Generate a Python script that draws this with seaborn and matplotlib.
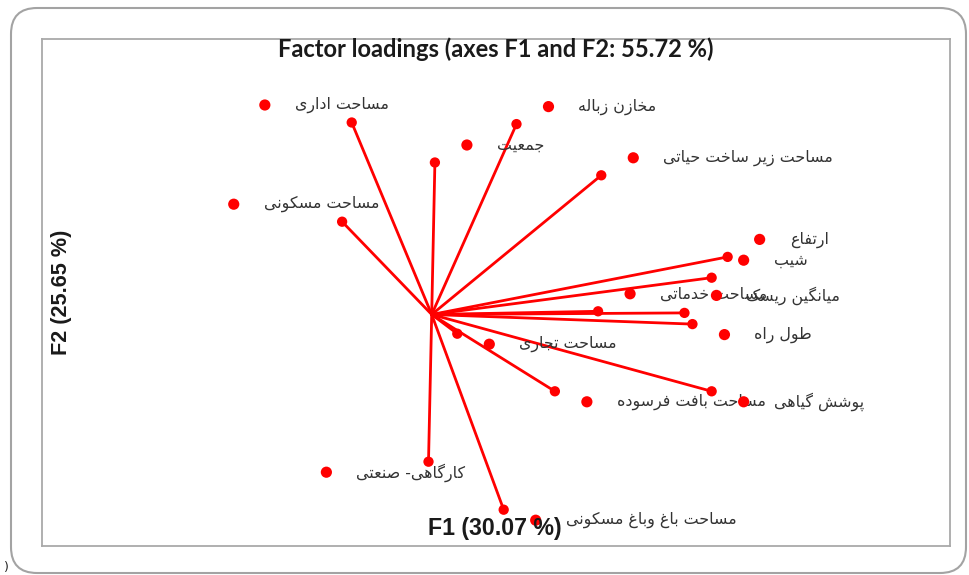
import numpy as np
import pandas as pd
import matplotlib
matplotlib.use("Agg")
import matplotlib.pyplot as plt
import seaborn as sns
from matplotlib.patches import FancyBboxPatch
from matplotlib.transforms import IdentityTransform

# ---------------- data ----------------
variables = ["مساحت اداری", "جمعیت", "مخازن زباله", "مساحت زیر ساخت حیاتی",
             "مساحت مسکونی", "ارتفاع", "شیب", "مساحت خدماتی", "میانگین ریسک",
             "طول راه", "مساحت تجاری", "مساحت بافت فرسوده", "پوشش گیاهی",
             "کارگاهی- صنعتی", "مساحت باغ وباغ مسکونی"]
f1 = [-0.25, 0.01, 0.265, 0.53, -0.28, 0.925, 0.875, 0.52, 0.79,
      0.815, 0.08, 0.385, 0.875, -0.01, 0.225]
f2 = [0.60, 0.475, 0.595, 0.435, 0.29, 0.18, 0.115, 0.01, 0.005,
      -0.03, -0.06, -0.24, -0.24, -0.46, -0.61]
title = "Factor loadings (axes F1 and F2: 55.72 %)"
xlabel = "F1 (30.07 %)"
ylabel = "F2 (25.65 %)"

# ---------------- Persian shaping (presentation forms, visual order) ----------------
FORMS = {
    'ا': ('\uFE8D', '\uFE8E', None, None),
    'ب': ('\uFE8F', '\uFE90', '\uFE91', '\uFE92'),
    'پ': ('\uFB56', '\uFB57', '\uFB58', '\uFB59'),
    'ت': ('\uFE95', '\uFE96', '\uFE97', '\uFE98'),
    'ج': ('\uFE9D', '\uFE9E', '\uFE9F', '\uFEA0'),
    'ح': ('\uFEA1', '\uFEA2', '\uFEA3', '\uFEA4'),
    'خ': ('\uFEA5', '\uFEA6', '\uFEA7', '\uFEA8'),
    'د': ('\uFEA9', '\uFEAA', None, None),
    'ر': ('\uFEAD', '\uFEAE', None, None),
    'ز': ('\uFEAF', '\uFEB0', None, None),
    'س': ('\uFEB1', '\uFEB2', '\uFEB3', '\uFEB4'),
    'ش': ('\uFEB5', '\uFEB6', '\uFEB7', '\uFEB8'),
    'ص': ('\uFEB9', '\uFEBA', '\uFEBB', '\uFEBC'),
    'ط': ('\uFEC1', '\uFEC2', '\uFEC3', '\uFEC4'),
    'ع': ('\uFEC9', '\uFECA', '\uFECB', '\uFECC'),
    'غ': ('\uFECD', '\uFECE', '\uFECF', '\uFED0'),
    'ف': ('\uFED1', '\uFED2', '\uFED3', '\uFED4'),
    'ک': ('\uFB8E', '\uFB8F', '\uFB90', '\uFB91'),
    'گ': ('\uFB92', '\uFB93', '\uFB94', '\uFB95'),
    'ل': ('\uFEDD', '\uFEDE', '\uFEDF', '\uFEE0'),
    'م': ('\uFEE1', '\uFEE2', '\uFEE3', '\uFEE4'),
    'ن': ('\uFEE5', '\uFEE6', '\uFEE7', '\uFEE8'),
    'ه': ('\uFEE9', '\uFEEA', '\uFEEB', '\uFEEC'),
    'و': ('\uFEED', '\uFEEE', None, None),
    'ی': ('\uFBFC', '\uFBFD', '\uFBFE', '\uFBFF'),
}


def shape(s):
    s = s.replace('\u064A', '\u06CC').replace('\u0643', '\u06A9')
    out = []
    for i, c in enumerate(s):
        if c not in FORMS:
            out.append(c)
            continue
        prev = s[i - 1] if i > 0 else None
        nxt = s[i + 1] if i + 1 < len(s) else None
        jp = prev in FORMS and FORMS[prev][2] is not None
        jn = FORMS[c][2] is not None and nxt in FORMS
        iso, fin, ini, med = FORMS[c]
        out.append(med if (jp and jn) else fin if jp else ini if jn else iso)
    return ''.join(reversed(out))


# ---------------- figure ----------------
sns.set_theme(style="white")
plt.rcParams['font.family'] = ['DejaVu Sans']

W, H = 969, 575
fig = plt.figure(figsize=(W / 100, H / 100), dpi=100)
ax_l, ax_r, ax_t, ax_b = 41.7, 950.0, 39.3, 545.7
ax = fig.add_axes([ax_l / W, 1 - ax_b / H, (ax_r - ax_l) / W, (ax_b - ax_t) / H])

df = pd.DataFrame({"var": variables, "F1": f1, "F2": f2})
rows = []
for v, x, y in zip(variables, f1, f2):
    rows.append((v, 0.0, 0.0))
    rows.append((v, x, y))
dfl = pd.DataFrame(rows, columns=["var", "F1", "F2"])

sns.lineplot(data=dfl, x="F1", y="F2", units="var", estimator=None, sort=False,
             color="#ff0000", lw=2.0, ax=ax, legend=False)
sns.scatterplot(data=df, x="F1", y="F2", color="#ff0000", s=55, edgecolor="none",
                ax=ax, legend=False, zorder=3)

ax.set_xlim(-1.219, 1.620)
ax.set_ylim(-0.7225, 0.860)
ax.set_xticks([])
ax.set_yticks([])
ax.set_xlabel("")
ax.set_ylabel("")
for sp in ax.spines.values():
    sp.set_color("#a9a9a9")
    sp.set_linewidth(1.3)

fig.canvas.draw()
renderer = fig.canvas.get_renderer()

# common font size for Persian labels (fit reference width of one label)
probe = ax.text(0, 0, shape("مساحت زیر ساخت حیاتی"), fontsize=10)
fs = 10 * 170 / probe.get_window_extent(renderer).width
probe.remove()

to_data = ax.transData.inverted()
lab_x, lab_y = [], []
for v, x, y in zip(variables, f1, f2):
    px, py = ax.transData.transform((x, y))
    dy = 17.5 if y > 0 else -10.5
    if x >= 0:
        dot = (px + 32, py + dy)
        ax.text(*to_data.transform((dot[0] + 30, dot[1])), shape(v), fontsize=fs,
                color="#333333", ha="left", va="center")
    else:
        t = ax.text(*to_data.transform((px + 37, py + dy)), shape(v), fontsize=fs,
                    color="#333333", ha="right", va="center")
        bb = t.get_window_extent(renderer)
        dot = (bb.x0 - 30, py + dy)
    dx_, dy_ = to_data.transform(dot)
    lab_x.append(dx_)
    lab_y.append(dy_)

sns.scatterplot(x=lab_x, y=lab_y, color="#ff0000", s=65, edgecolor="none",
                ax=ax, legend=False, zorder=3)


def fit(t, target):
    bb = t.get_window_extent(renderer)
    t.set_fontsize(t.get_fontsize() * target / max(bb.width, bb.height))


tt = fig.text(496 / W, 1 - 49.5 / H, title, fontsize=14, family="Lato", weight="bold",
              ha="center", va="center", color="#1a1a1a")
fit(tt, 440)
xl = fig.text(495 / W, 1 - 529 / H, xlabel, fontsize=15, family="Liberation Sans",
              weight="bold", ha="center", va="center", color="#1a1a1a")
fit(xl, 134)
yl = fig.text(62 / W, 1 - 292 / H, ylabel, fontsize=15, family="Liberation Sans",
              weight="bold", ha="center", va="center", rotation=90, color="#1a1a1a")
fit(yl, 125)

# outer rounded frame (pixel coordinates)
frame = FancyBboxPatch((11, 2), 955, 565, boxstyle="round,pad=0,rounding_size=26",
                       transform=IdentityTransform(), fill=False,
                       edgecolor="#a3a3a3", linewidth=1.5)
fig.patches.append(frame)
fig.text(4 / W, 1 - 567 / H, ")", fontsize=9, color="#222222", ha="left", va="center")

fig.savefig("out.png", dpi=100)
